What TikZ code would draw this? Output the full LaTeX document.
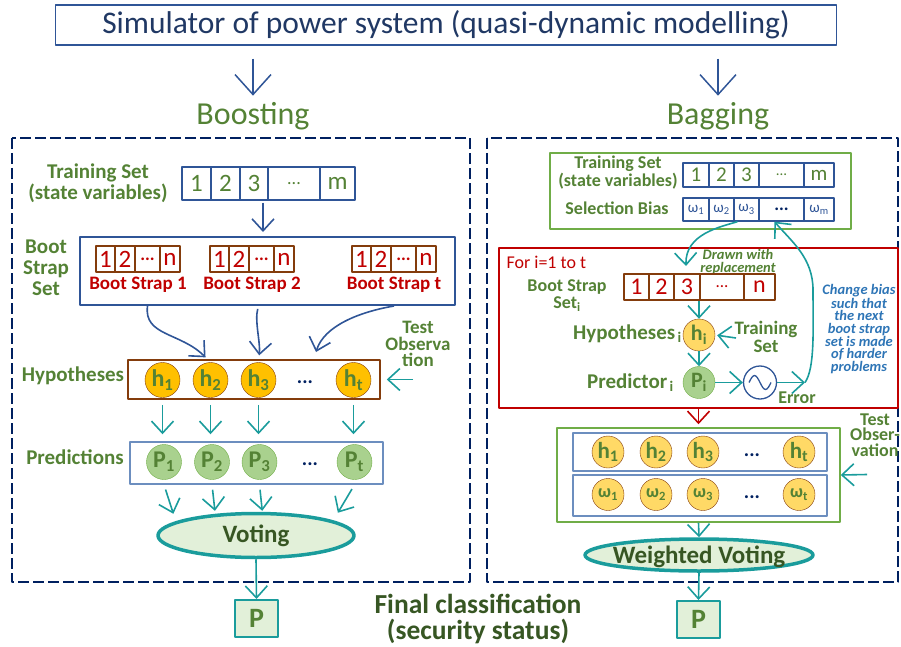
\documentclass[tikz,border=0pt]{standalone}
\usepackage{fontspec}
\setmainfont{Carlito}
\usepackage{xcolor}
\usepackage{tikz}
\usetikzlibrary{arrows.meta,shapes.geometric}
\definecolor{title_blue}{HTML}{203864}
\definecolor{box_blue}{HTML}{2F5597}
\definecolor{frame_navy}{HTML}{002060}
\definecolor{leaf_green}{HTML}{548235}
\definecolor{deep_green}{HTML}{375623}
\definecolor{teal_line}{HTML}{1A9C9C}
\definecolor{strap_red}{HTML}{C00000}
\definecolor{strap_brown}{HTML}{843C0C}
\definecolor{hyp_amber}{HTML}{FFC000}
\definecolor{hyp_light}{HTML}{FFD966}
\definecolor{pred_green}{HTML}{A9D18E}
\definecolor{vote_fill}{HTML}{E2F0D9}
\definecolor{note_blue}{HTML}{2E75B6}
\definecolor{frame_green}{HTML}{70AD47}
\definecolor{pred_frame}{HTML}{6C8EBF}
\newcommand{\fsz}[1]{\fontsize{#1}{#1}\selectfont}
\newcommand{\squeezed}[1]{\smash{\raisebox{-0.33em}{\makebox[0pt]{#1}}}}

\begin{document}
\begin{tikzpicture}[x=1pt, y=-1pt, line join=round,
    greentxt/.style={text=leaf_green, font=\bfseries\fontsize{21}{21}\selectfont, align=center, inner sep=0pt},
    tcell/.style={draw=box_blue, line width=1.3pt, minimum height=33pt, inner sep=0pt, text=leaf_green, font=\fsz{25}},
    rcell/.style={draw=box_blue, line width=1.3pt, minimum height=24pt, inner sep=0pt, text=leaf_green, font=\fsz{21}},
    wcell/.style={draw=box_blue, line width=1.3pt, minimum height=23pt, inner sep=0pt, text=box_blue, font=\fsz{15}},
    bcell/.style={draw=strap_brown, line width=1.3pt, minimum height=26pt, inner sep=0pt, text=strap_red, font=\fsz{25}},
    hball/.style={circle, draw=strap_brown, fill=hyp_amber, minimum size=35pt, inner sep=0pt, text=leaf_green, font=\bfseries\fsz{24}},
    pball/.style={circle, draw=frame_green, fill=pred_green, minimum size=35pt, inner sep=0pt, text=leaf_green, font=\bfseries\fsz{24}},
    moredots/.style={text=frame_navy, font=\bfseries\fsz{20}},
    bigarr/.style={-{Straight Barb[length=20pt,width=36pt]}, box_blue, line width=1.5pt},
    bluearr/.style={-{Straight Barb[length=12pt,width=22pt]}, box_blue, line width=1.6pt},
    tealarr/.style={-{Straight Barb[length=12pt,width=22pt]}, teal_line, line width=1.6pt},
    redarr/.style={-{Straight Barb[length=12pt,width=22pt]}, strap_red, line width=1.6pt},
    voteshape/.style={ellipse, draw=teal_line, line width=3.5pt, fill=vote_fill, text=deep_green, font=\bfseries\fsz{25}, inner sep=0pt},
    pbox/.style={draw=teal_line, line width=2pt, fill=vote_fill, text=leaf_green, font=\bfseries\fsz{28}, minimum width=43pt, minimum height=37pt},
    dashframe/.style={draw=frame_navy, line width=2.8pt, dash pattern=on 11pt off 4pt}]

    \useasboundingbox (0,0) rectangle (901,647);

    % header and the two branches
    \node[draw=box_blue, line width=1.5pt, minimum width=781pt, minimum height=40pt, text=title_blue, font=\fsz{31.5}] (sim) at (446,25) {Simulator of power system (quasi-dynamic modelling)};
    \node[text=leaf_green, font=\fsz{32}] (boost) at (253,116) {Boosting};
    \node[text=leaf_green, font=\fsz{32}] (bag) at (718,116) {Bagging};
    \draw[bigarr, shorten <=13pt, shorten >=3pt] (sim.south -| boost) -- (boost.north);
    \draw[bigarr, shorten <=13pt, shorten >=3pt] (sim.south -| bag) -- (bag.north);

    \draw[dashframe] (12,138) rectangle (470,582);
    \draw[dashframe] (487,138) rectangle (898,582);


    % Boosting: training set and boot strap sets
    \node[greentxt] (ts) at (98,183) {Training Set\\(state variables)};
    \node[tcell, minimum width=29pt] (t1) at (196.5,183.5) {1};
    \node[tcell, minimum width=29pt] (t2) at (225.5,183.5) {2};
    \node[tcell, minimum width=28pt] (t3) at (254,183.5) {3};
    \node[tcell, minimum width=52pt] (t4) at (294,183.5) {\fsz{18}...};
    \node[tcell, minimum width=35pt] (t5) at (337.5,183.5) {m};

    \node[draw=box_blue, line width=2pt, minimum width=375pt, minimum height=68pt] (bsset) at (267.5,271) {};
    \node[greentxt] (bslbl) at (46,268) {Boot\\Strap\\Set};
    \draw[bluearr, shorten <=2pt, shorten >=4pt] ([xshift=9pt]t3.south) -- ([xshift=9pt]t3.south |- bsset.north);

    \foreach \k/\x/\lab in {1/0/1, 2/114/2, 3/256/t} {
      \node[bcell, minimum width=19pt] (s\k-1) at (105.5+\x,259) {1};
      \node[bcell, minimum width=20pt] (s\k-2) at (125+\x,259) {2};
      \node[bcell, minimum width=25pt] (s\k-3) at (147.5+\x,259) {\fsz{18}\bfseries...};
      \node[bcell, minimum width=20pt] (s\k-4) at (170+\x,259) {n};
      \node[text=strap_red, font=\bfseries\fsz{19}] (s\k lbl) at (138+\x,285) {Boot Strap \lab};
    }

    % Boosting: hypotheses
    \node[draw=strap_brown, line width=1.5pt, minimum width=252pt, minimum height=39pt] (hypbox) at (254,379.5) {};
    \node[greentxt] (hyplbl) at (73,376) {Hypotheses};
    \node[hball] (h1) at (162.5,380) {h\textsubscript{1}};
    \node[hball] (h2) at (210.5,380) {h\textsubscript{2}};
    \node[hball] (h3) at (258.5,380) {h\textsubscript{3}};
    \node[moredots] (hdots) at (305,382) {...};
    \node[hball] (ht) at (353.5,380) {h\textsubscript{t}};
    \coordinate (hin) at (316,352);

    \draw[bluearr, shorten >=7pt] (s1-3 |- bsset.south) .. controls +(-4,30) and +(-30,-30) .. (h2.north);
    \draw[bluearr, shorten <=3pt, shorten >=7pt] (h3 |- bsset.south) .. controls +(-4,15) and +(2,-20) .. (h3.north);
    \draw[bluearr] (s3lbl |- bsset.south) .. controls +(-35,6) and +(8,-26) .. (hin);

    \node[greentxt, font=\bfseries\fontsize{19}{16.5}\selectfont] (testl) at (418,344) {Test\\Observa\\tion};
    \coordinate (tin) at (413,379.5);
    \draw[tealarr, shorten >=6pt] (tin) -- (hypbox.east);

    % Boosting: predictions and voting
    \node[draw=pred_frame, line width=1.5pt, minimum width=253pt, minimum height=42pt] (predbox) at (256.5,463) {};
    \node[greentxt] (predlbl) at (75,457) {Predictions};
    \node[pball] (p1) at (164,462) {P\textsubscript{1}};
    \node[pball] (p2) at (212,462) {P\textsubscript{2}};
    \node[pball] (p3) at (259.5,462) {P\textsubscript{3}};
    \node[moredots] (pdots) at (310,464) {...};
    \node[pball] (pt) at (354.5,462) {P\textsubscript{t}};

    \draw[tealarr, shorten <=5pt, shorten >=7pt] (h1 |- hypbox.south) -- (h1 |- predbox.north);
    \draw[tealarr, shorten <=5pt, shorten >=7pt] (h2 |- hypbox.south) -- (h2 |- predbox.north);
    \draw[tealarr, shorten <=5pt, shorten >=7pt] (h3 |- hypbox.south) -- (h3 |- predbox.north);
    \draw[tealarr, shorten <=5pt, shorten >=7pt] (ht |- hypbox.south) -- (ht |- predbox.north);

    \node[voteshape, minimum width=196pt, minimum height=44pt] (vote) at (256,535.5) {Voting};
    \draw[tealarr, shorten <=5pt, shorten >=8pt] (p1 |- predbox.south) -- (vote.170);
    \draw[tealarr, shorten <=5pt, shorten >=3pt] (p2 |- predbox.south) -- (vote.152);
    \draw[tealarr, shorten <=5pt, shorten >=1pt] (p3 |- predbox.south) -- (vote.75);
    \draw[tealarr, shorten <=5pt, shorten >=9pt] (pt |- predbox.south) -- (vote.11);

    \node[pbox] (pleft) at (256.5,618.5) {P};
    \draw[tealarr] (vote.south) -- (pleft.north);

    \node[text=deep_green, font=\bfseries\fontsize{27.5}{26}\selectfont, align=center] (final) at (478,619) {Final classification\\(security status)};


    % Bagging: training set with selection bias
    \node[draw=frame_green, line width=1.5pt, minimum width=301pt, minimum height=76pt] (tsbox) at (700.5,191) {};
    \node[greentxt, font=\bfseries\fontsize{18}{18}\selectfont] (ts2) at (618,173) {Training Set\\(state variables)};
    \node[greentxt, font=\bfseries\fsz{18}] (biaslbl) at (617,208) {Selection Bias};
    \node[rcell, minimum width=26pt] (r1) at (696,175) {1};
    \node[rcell, minimum width=25pt] (r2) at (721.5,175) {2};
    \node[rcell, minimum width=25pt] (r3) at (746.5,175) {3};
    \node[rcell, minimum width=45pt] (r4) at (781.5,175) {\fsz{15}...};
    \node[rcell, minimum width=30pt] (r5) at (819,175) {m};
    \node[wcell, minimum width=26pt] (b1) at (696,209.5) {ω\textsubscript{1}};
    \node[wcell, minimum width=25pt] (b2) at (721.5,209.5) {ω\textsubscript{2}};
    \node[wcell, minimum width=25pt] (b3) at (746.5,209.5) {ω\textsubscript{3}};
    \node[wcell, minimum width=45pt, text=frame_navy, font=\bfseries\fsz{18}] (b4) at (781.5,209.5) {...};
    \node[wcell, minimum width=30pt] (b5) at (819,209.5) {ω\textsubscript{m}};

    % Bagging: loop over i
    \node[draw=strap_red, line width=2pt, minimum width=399pt, minimum height=160pt] (loopbox) at (698.5,328) {};
    \node[anchor=west, text=strap_red, font=\fsz{18}] (forlbl) at (503,262) {For i=1 to t};

    \coordinate (drawn) at (686,266);
    \draw[tealarr] ([xshift=-9pt]b3.south) .. controls (720,227) and (685,234) .. (drawn);
    \node[text=leaf_green, font=\bfseries\itshape\fontsize{14.5}{13}\selectfont, align=center] (drawnlbl) at (738,262) {Drawn with\\replacement};

    \node[greentxt, font=\bfseries\fontsize{18}{17}\selectfont] (bsilbl) at (567,296) {Boot Strap\\Set\textsubscript{i}};
    \node[bcell, minimum width=25pt, font=\fsz{24}] (k1) at (636.5,287) {1};
    \node[bcell, minimum width=25pt, font=\fsz{24}] (k2) at (661.5,287) {2};
    \node[bcell, minimum width=26pt, font=\fsz{24}] (k3) at (687,287) {3};
    \node[bcell, minimum width=44pt, font=\fsz{17}] (k4) at (722,287) {...};
    \node[bcell, minimum width=31pt, font=\fsz{24}] (k5) at (759.5,287) {n};

    \node[hball, fill=hyp_light, minimum size=32pt, font=\bfseries\fsz{22}] (hypi) at (699,335) {h\textsubscript{i}};
    \node[pball, minimum size=32pt, font=\bfseries\fsz{22}] (predi) at (699,382.5) {P\textsubscript{i}};
    \node[greentxt, anchor=east] (hypilbl) at (682,334) {Hypotheses\textsubscript{\,i}};
    \node[greentxt, anchor=east] (predilbl) at (674,383) {Predictor\textsubscript{\,i}};
    \node[greentxt, font=\bfseries\fontsize{19}{18}\selectfont] (trlbl) at (766,337) {Training\\Set};
    \coordinate (trin) at (736,338);

    \draw[tealarr] (hypi |- k3.south) -- (hypi.north);
    \draw[tealarr, shorten >=2pt] (trin) -- (hypi.east);
    \draw[tealarr] (hypi.south) -- (predi.north);

    \node[circle, draw=box_blue, line width=1.3pt, fill=white, minimum size=33pt] (sine) at (760,382.5) {};
    \draw[box_blue, line width=1.3pt] ([xshift=-11pt]sine.center) sin ++(5.5,-7) cos ++(5.5,7) sin ++(5.5,7) cos ++(5.5,-7);
    \draw[tealarr] (predi.east) -- (sine.west);
    \coordinate (err) at (805,382.5);
    \draw[tealarr] (sine.east) -- (err);
    \node[greentxt, font=\bfseries\fsz{18}] (errlbl) at (797,398) {Error};

    % feed back to the selection bias
    \draw[tealarr] (err) .. controls (815,368) and (813,330) .. (813,290) .. controls (813,258) and (792,242) .. ([xshift=-7pt]b4.south);
    \node[text=note_blue, font=\bfseries\itshape\fontsize{14.5}{12.4}\selectfont, align=center] (note) at (859,329) {Change bias\\such that\\the next\\boot strap\\set is made\\of harder\\problems};

    % Bagging: weighted voting
    \node[draw=frame_green, line width=1.5pt, minimum width=283pt, minimum height=94pt] (wbox) at (698.5,475) {};
    \draw[redarr, shorten >=3pt] (loopbox.south) -- (wbox.north);
    \node[draw=pred_frame, line width=1.5pt, minimum width=254pt, minimum height=38pt] (hrow) at (700,452) {};
    \node[draw=pred_frame, line width=1.5pt, minimum width=254pt, minimum height=41pt] (wrow) at (700,495.5) {};

    \node[hball, fill=hyp_light, minimum size=32pt, font=\bfseries\fsz{23}] (rh1) at (608,452) {h\textsubscript{1}};
    \node[hball, fill=hyp_light, minimum size=32pt, font=\bfseries\fsz{23}] (rh2) at (656,452) {h\textsubscript{2}};
    \node[hball, fill=hyp_light, minimum size=32pt, font=\bfseries\fsz{23}] (rh3) at (703,452) {h\textsubscript{3}};
    \node[moredots] (rhdots) at (752,455) {...};
    \node[hball, fill=hyp_light, minimum size=32pt, font=\bfseries\fsz{23}] (rht) at (799,452) {h\textsubscript{t}};

    \node[hball, fill=hyp_light, minimum size=32pt, font=\bfseries\fsz{18}] (rw1) at (608,494.5) {ω\textsubscript{1}};
    \node[hball, fill=hyp_light, minimum size=32pt, font=\bfseries\fsz{18}] (rw2) at (656,494.5) {ω\textsubscript{2}};
    \node[hball, fill=hyp_light, minimum size=32pt, font=\bfseries\fsz{18}] (rw3) at (703,494.5) {ω\textsubscript{3}};
    \node[moredots] (rwdots) at (752,497) {...};
    \node[hball, fill=hyp_light, minimum size=32pt, font=\bfseries\fsz{18}] (rwt) at (799,494.5) {ω\textsubscript{t}};

    \node[greentxt, font=\bfseries\fontsize{18}{15.5}\selectfont] (test2) at (875,435) {Test\\Obser-\\vation};
    \coordinate (t2in) at (867,474.5);
    \draw[tealarr] (t2in) -- (wbox.east);

    \node[voteshape, minimum width=228pt, minimum height=32pt] (wvote) at (699,555) {\squeezed{Weighted Voting}};
    \draw[tealarr] (wbox.south) -- (wvote.north);

    \node[pbox] (pright) at (698.5,619.5) {P};
    \draw[tealarr] (wvote.south) -- (pright.north);

\end{tikzpicture}
\end{document}
